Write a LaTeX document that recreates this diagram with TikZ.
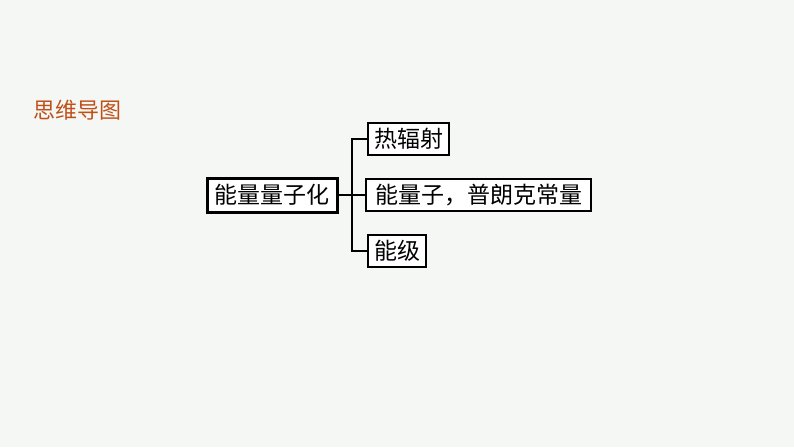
\documentclass[tikz,border=0pt]{standalone}
\usepackage{fontspec}
\setmainfont{Noto Sans CJK SC}
\definecolor{bgc}{HTML}{F4F7F3}
\definecolor{titlec}{HTML}{C0501A}
\begin{document}
\begin{tikzpicture}[x=1pt,y=-1pt,
  leaf/.style={draw=black,line width=1.6pt,fill=white,inner sep=0pt,font=\fontsize{23}{23}\selectfont,anchor=center},
  root/.style={leaf,line width=3pt},
  conn/.style={draw=black,line width=2pt}]
\fill[bgc] (0,0) rectangle (794,447);
\useasboundingbox (0,0) rectangle (794,447);
\node[text=titlec,font=\fontsize{22}{22}\selectfont,anchor=center] (title) at (77,110) {思维导图};
\node[root,minimum width=130,minimum height=34] (main) at (272,195) {能量量子化};
\node[leaf,minimum width=81,minimum height=32] (a) at (408.5,139) {热辐射};
\node[leaf,minimum width=225,minimum height=32] (b) at (478.5,195) {能量子，普朗克常量};
\node[leaf,minimum width=58,minimum height=32] (c) at (397,251) {能级};
\coordinate (j) at (352,195);
\draw[conn] (main.east) -- (b.west);
\draw[conn] (a.west) -| (j) |- (c.west);
\end{tikzpicture}
\end{document}
